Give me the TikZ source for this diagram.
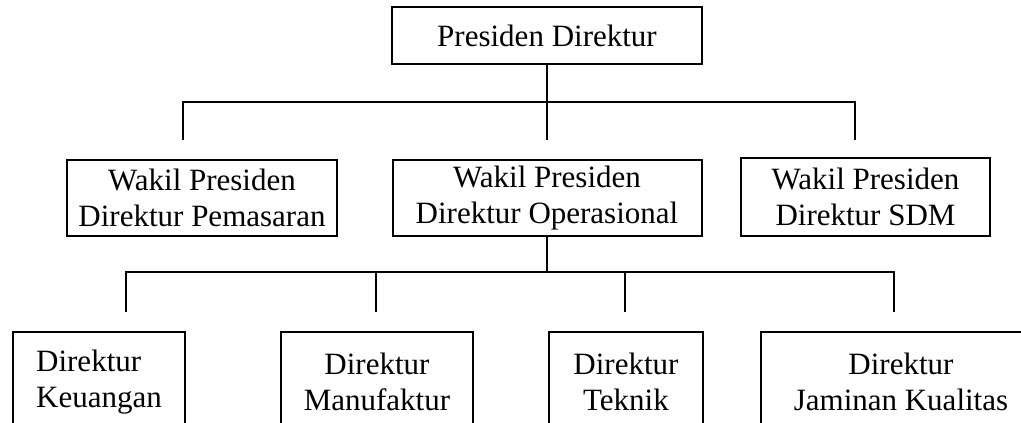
\documentclass[tikz,border=0pt]{standalone}
\usepackage{fontspec}
\setmainfont{Liberation Serif}
\begin{document}
\begin{tikzpicture}[x=1pt,y=-1pt,
  box/.style={draw, line width=2pt, inner sep=0pt, align=center,
    font=\fontsize{31}{36}\selectfont},
  link/.style={line width=2pt}]
\useasboundingbox (0,0) rectangle (1021,423);
\begin{scope}
\clip (0,0) rectangle (1021,423);
% level 0
\node[box, minimum width=310, minimum height=57] (pd) at (547,35.5) {Presiden Direktur};
% level 1
\node[box, minimum width=270, minimum height=76] (wp) at (202,198) {Wakil Presiden\\Direktur Pemasaran};
\node[box, minimum width=309, minimum height=76] (wo) at (547,198) {Wakil Presiden\\Direktur Operasional};
\node[box, minimum width=249, minimum height=78] (ws) at (865.5,197) {Wakil Presiden\\Direktur SDM};
% level 2
\node[box, align=left, minimum width=172, minimum height=100] (dk) at (99,382) {Direktur\\Keuangan};
\node[box, minimum width=192, minimum height=100] (dm) at (377,382) {Direktur\\Manufaktur};
\node[box, minimum width=154, minimum height=100] (dt) at (626,382) {Direktur\\Teknik};
\node[box, minimum width=280, minimum height=100] (dj) at (901,382) {Direktur\\Jaminan Kualitas};
% connectors level 0 -> 1
\coordinate (m1) at (547,140);
\coordinate (c1l) at (183,102);
\coordinate (c1r) at (855,102);
\coordinate (e1l) at (183,140);
\coordinate (e1r) at (855,140);
\draw[link] (pd.south) -- (m1);
\draw[link] (e1l) -- (c1l) -- (c1r) -- (e1r);
% connectors level 1 -> 2
\coordinate (m2) at (547,272);
\coordinate (c2l) at (126,272);
\coordinate (c2a) at (376,272);
\coordinate (c2b) at (625,272);
\coordinate (c2r) at (894,272);
\coordinate (e2l) at (126,312);
\coordinate (e2a) at (376,312);
\coordinate (e2b) at (625,312);
\coordinate (e2r) at (894,312);
\draw[link] (wo.south) -- (m2);
\draw[link] (e2l) -- (c2l) -- (c2r) -- (e2r);
\draw[link] (c2a) -- (e2a);
\draw[link] (c2b) -- (e2b);
\end{scope}
\end{tikzpicture}
\end{document}
